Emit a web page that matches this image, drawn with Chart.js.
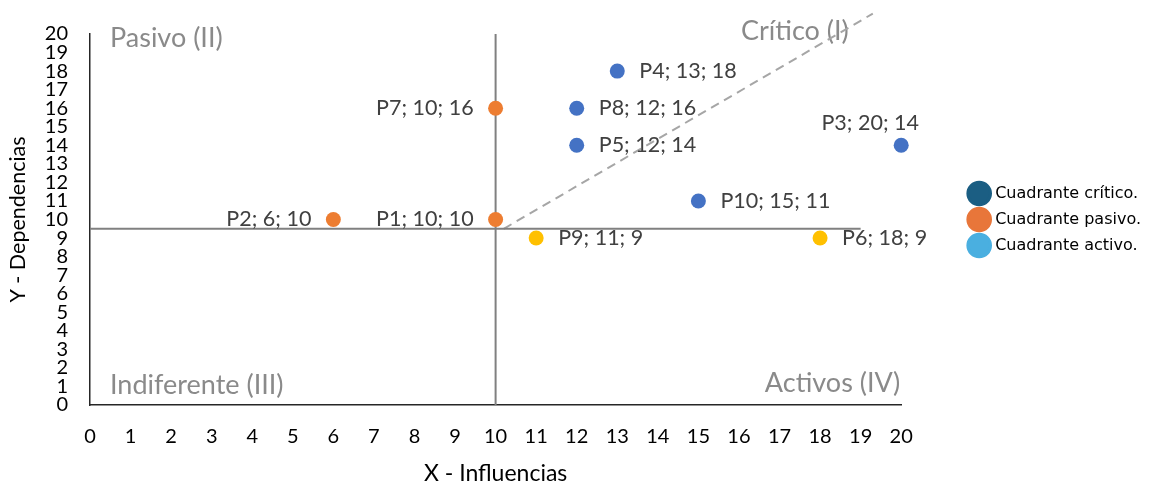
<!DOCTYPE html>
<html lang="es">
<head>
<meta charset="UTF-8">
<title>Matriz de influencias y dependencias</title>
<script src="https://cdn.jsdelivr.net/npm/chart.js"></script>
<style>
  html, body { margin: 0; padding: 0; background: #fff; }
  #wrap { width: 1151px; height: 487px; }
</style>
</head>
<body>
<div id="wrap"><canvas id="matriz"></canvas></div>
<script>
// datos
const problemas    = ['P1', 'P2', 'P3', 'P4', 'P5', 'P6', 'P7', 'P8', 'P9', 'P10'];
const influencias  = [10, 6, 20, 13, 12, 18, 10, 12, 11, 15];
const dependencias = [10, 10, 14, 18, 14, 9, 16, 16, 9, 11];
const cuadrante    = ['pasivo', 'pasivo', 'critico', 'critico', 'critico', 'activo', 'pasivo', 'critico', 'activo', 'critico'];

// lineas de division
const corteX = [10, 10];       const corteXy = [0, 20];
const corteY = [0, 19];        const corteYy = [9.5, 9.5];
const diagX  = [10.2, 19.3];   const diagY  = [9.5, 21.1];

const leyendaTextos  = ['Cuadrante crítico.', 'Cuadrante pasivo.', 'Cuadrante activo.'];
const leyendaColores = ['#1B5E83', '#E8763A', '#4AAFE0'];

const coloresCuadrante = { critico: '#4472C4', pasivo: '#ED7D31', activo: '#FFC000' };
// donde va cada etiqueta respecto a su punto
const lado = { P1: 'left', P2: 'left', P7: 'left', P3: 'top' };

const FUENTE = 'Lato';

function serie(tipo) {
    const idx = problemas.map((p, i) => i).filter(i => cuadrante[i] === tipo);
    return {
        label: tipo,
        data: idx.map(i => ({ x: influencias[i], y: dependencias[i] })),
        nombres: idx.map(i => problemas[i]),
        backgroundColor: coloresCuadrante[tipo],
        borderColor: coloresCuadrante[tipo],
        pointRadius: 7.5,
        pointHoverRadius: 7.5,
        borderWidth: 0,
        clip: false
    };
}

function linea(xs, ys, color, dash) {
    return {
        type: 'line',
        data: xs.map((x, i) => ({ x: x, y: ys[i] })),
        borderColor: color,
        borderWidth: 2,
        borderDash: dash || [],
        pointRadius: 0,
        showLine: true,
        fill: false,
        clip: false,
        order: 5
    };
}

// textos de los cuadrantes, bajo las series
const cuadrantes = {
    id: 'cuadrantes',
    beforeDatasetsDraw(chart) {
        const { ctx, chartArea: a } = chart;
        ctx.save();
        ctx.font = '27px ' + FUENTE;
        ctx.fillStyle = '#8A8A8A';
        ctx.textBaseline = 'middle';
        ctx.textAlign = 'left';
        ctx.fillText('Pasivo (II)', a.left + 20, a.top + 4);
        ctx.fillText('Crítico (I)', a.left + 651, a.top - 3);
        ctx.fillText('Indiferente (III)', a.left + 20, a.bottom - 20);
        ctx.textAlign = 'right';
        ctx.fillText('Activos (IV)', a.right - 1, a.bottom - 22);
        ctx.restore();
    }
};

// etiquetas "P; x; y" junto a cada punto
const etiquetas = {
    id: 'etiquetas',
    afterDatasetsDraw(chart) {
        const ctx = chart.ctx;
        ctx.save();
        ctx.font = '21.5px ' + FUENTE;
        ctx.fillStyle = '#404040';
        ctx.textBaseline = 'middle';
        chart.data.datasets.forEach((ds, i) => {
            if (!ds.nombres) return;
            chart.getDatasetMeta(i).data.forEach((pt, j) => {
                const n = ds.nombres[j];
                const txt = n + '; ' + ds.data[j].x + '; ' + ds.data[j].y;
                const l = lado[n] || 'right';
                if (l === 'left') {
                    ctx.textAlign = 'right';
                    ctx.fillText(txt, pt.x - 22, pt.y);
                } else if (l === 'top') {
                    ctx.textAlign = 'center';
                    ctx.fillText(txt, pt.x - 31, pt.y - 22);
                } else {
                    ctx.textAlign = 'left';
                    ctx.fillText(txt, pt.x + 22, pt.y);
                }
            });
        });
        ctx.restore();
    }
};

new Chart(document.getElementById('matriz'), {
    type: 'scatter',
    data: {
        datasets: [
            serie('critico'),
            serie('pasivo'),
            serie('activo'),
            linea(corteX, corteXy, '#808080'),
            linea(corteY, corteYy, '#808080'),
            linea(diagX, diagY, '#A6A6A6', [9, 6])
        ]
    },
    options: {
        responsive: true,
        maintainAspectRatio: false,
        animation: false,
        layout: { padding: { top: 33 } },
        plugins: {
            tooltip: { enabled: false },
            legend: {
                position: 'right',
                fullSize: false,
                onClick: null,
                labels: {
                    usePointStyle: true,
                    padding: 10,
                    color: '#000',
                    font: { family: 'DejaVu Sans', size: 16 },
                    generateLabels: () => leyendaTextos.map((t, i) => ({
                        text: t,
                        fillStyle: leyendaColores[i],
                        strokeStyle: leyendaColores[i],
                        lineWidth: 3,
                        pointStyle: 'circle',
                        hidden: false,
                        fontColor: '#000'
                    }))
                }
            }
        },
        scales: {
            x: {
                type: 'linear',
                min: 0, max: 20,
                grid: { display: false, drawTicks: false },
                border: { display: true, color: '#262626', width: 1.5 },
                ticks: { stepSize: 1, autoSkip: false, maxRotation: 0, padding: 20, color: '#000', font: { family: FUENTE, size: 20 } },
                title: { display: true, text: 'X - Influencias', color: '#000', padding: 0, font: { family: FUENTE, size: 23 } },
                afterFit(s) { s.height = 82; }
            },
            y: {
                type: 'linear',
                min: 0, max: 20,
                grid: { display: false, drawTicks: false },
                border: { display: true, color: '#262626', width: 1.5 },
                ticks: { stepSize: 1, autoSkip: false, padding: 22, color: '#000', font: { family: FUENTE, size: 20 } },
                title: { display: true, text: 'Y - Dependencias', color: '#000', padding: 5, font: { family: FUENTE, size: 21.5 } },
                afterFit(s) { s.width = 90; }
            },
            hueco: {
                type: 'linear',
                position: 'right',
                grid: { display: false, drawTicks: false },
                border: { display: false },
                ticks: { display: false },
                afterFit(s) { s.width = 60; }
            }
        }
    },
    plugins: [cuadrantes, etiquetas]
});
</script>
</body>
</html>
